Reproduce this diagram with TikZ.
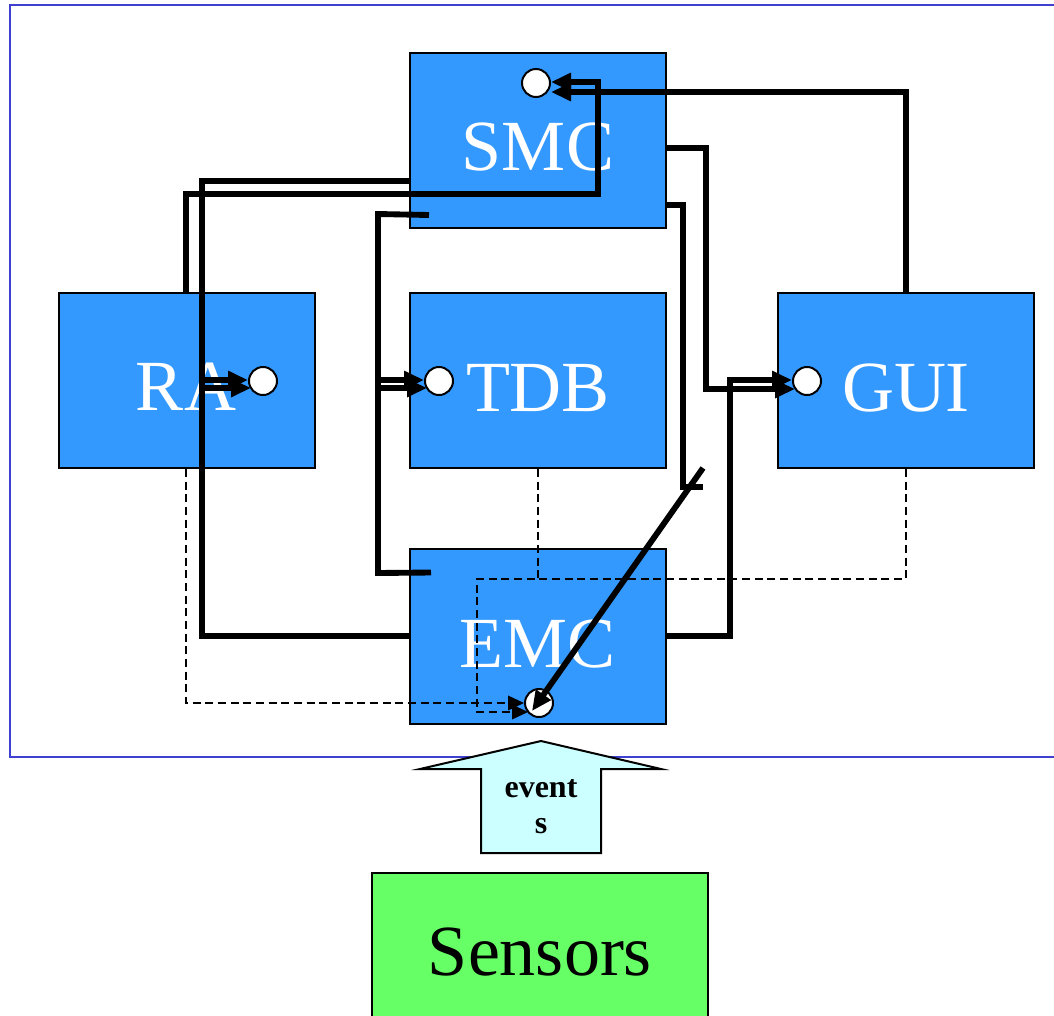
\documentclass[tikz,border=0pt]{standalone}
\usepackage{fontspec}
\setmainfont{Liberation Serif}
\usetikzlibrary{arrows.meta,calc}
\definecolor{boxblue}{RGB}{51,153,255}
\definecolor{sensgreen}{RGB}{102,255,102}
\definecolor{evcyan}{RGB}{204,255,255}
\definecolor{frameblue}{RGB}{64,64,208}
\begin{document}
\begin{tikzpicture}[x=0.75pt,y=-0.75pt,
  blk/.style={draw=black,line width=1.5pt,fill=boxblue,inner sep=0pt,minimum width=192pt,minimum height=131.25pt},
  blktext/.style={anchor=base,text=white,inner sep=0pt,font=\fontsize{54}{60}\selectfont},
  port/.style={circle,draw=black,line width=1.5pt,fill=white,inner sep=0pt,minimum size=21pt},
  conn/.style={line width=4.4pt,black},
  arrowhd/.style={-{Triangle[length=15pt,width=13pt]}},
  dconn/.style={line width=1.2pt,black,dash pattern=on 6pt off 3.5pt},
  dhd/.style={-{Triangle[length=12pt,width=11pt]}}
]
\useasboundingbox (0,0) rectangle (1054,1015);
% frame
\draw[frameblue,line width=1.5pt] (1054,5) -- (10,5) -- (10,757) -- (1054,757);
% boxes
\node[blk] (smc) at (538,140.5) {};
\node[blk] (ra) at (186.5,380.5) {};
\node[blk] (tdb) at (538,380.5) {};
\node[blk] (gui) at (906,380.5) {};
\node[blk] (emc) at (538,636) {};
\node[blktext] (tsmc) at (538,170) {SMC};
\node[blktext] (tra) at (186,410) {RA};
\node[blktext] (ttdb) at (538,411) {TDB};
\node[blktext] (tgui) at (906,411) {GUI};
\node[blktext] (temc) at (538,667) {EMC};
% ports
\node[port] (pSMC) at (536,83) {};
\node[port] (pRA) at (263,381) {};
\node[port] (pTDB) at (439,381) {};
\node[port] (pGUI) at (807,381) {};
\node[port] (pEMC) at (539,703) {};
% solid connectors
\draw[conn,arrowhd] (ra.north -| 186,0) -- (186,194) -- (598,194) -- (598,82) -- (pSMC.east |- 0,82);
\draw[conn,arrowhd] (gui.north) -- (906,92) -- (pSMC.east |- 0,92);
\draw[conn] (smc.west |- 0,181) -- (202,181) -- (202,636) -- (emc.west |- 0,636);
\draw[conn,arrowhd] (202,380) -- (pRA.west |- 0,380);
\draw[conn,arrowhd] (202,388) -- ($(pRA.west)+(3,7)$);
\draw[conn] ($(smc.south west)+(20,-14)$) -- (378,214) -- (378,573) -- ($(emc.north west)+(22,25)$);
\draw[conn,arrowhd] (378,380) -- (pTDB.west |- 0,380);
\draw[conn,arrowhd] (378,388) -- ($(pTDB.west)+(3,7)$);
\draw[conn,arrowhd] (smc.east |- 0,148) -- (706,148) -- (706,389) -- ($(pGUI.west)+(3,8)$);
\draw[conn,arrowhd] (emc.east |- 0,636) -- (730,636) -- (730,380) -- (pGUI.west |- 0,380);
\draw[conn] (smc.east |- 0,205) -- (683,205) -- (683,487) -- (703,487);
\draw[conn,arrowhd] (703,468) -- ($(pEMC.center)+(-7,8)$);
% dashed connectors
\draw[dconn,dhd] (ra.south -| 186,0) -- (186,703) -- (pEMC.west);
\draw[dconn] (tdb.south) -- (538,579);
\draw[dconn,dhd] (gui.south) -- (906,579) -- (477,579) -- (477,712) -- ($(pEMC.west)+(4,9)$);
% events arrow
\draw[line width=1.5pt,fill=evcyan,line join=miter] (541,741) -- (661,769) -- (601,769) -- (601,853) -- (481,853) -- (481,769) -- (420,769) -- cycle;
\node[align=center,inner sep=0pt,font=\bfseries\fontsize{24}{27}\selectfont] (ev) at (541,807) {event\\s};
% sensors
\node[draw=black,line width=1.5pt,fill=sensgreen,inner sep=0pt,minimum width=252pt,minimum height=117.75pt] (sens) at (540,951.5) {};
\node[anchor=base,inner sep=0pt,font=\fontsize{54}{60}\selectfont] (tsens) at (540,975) {Sensors};
\end{tikzpicture}
\end{document}
